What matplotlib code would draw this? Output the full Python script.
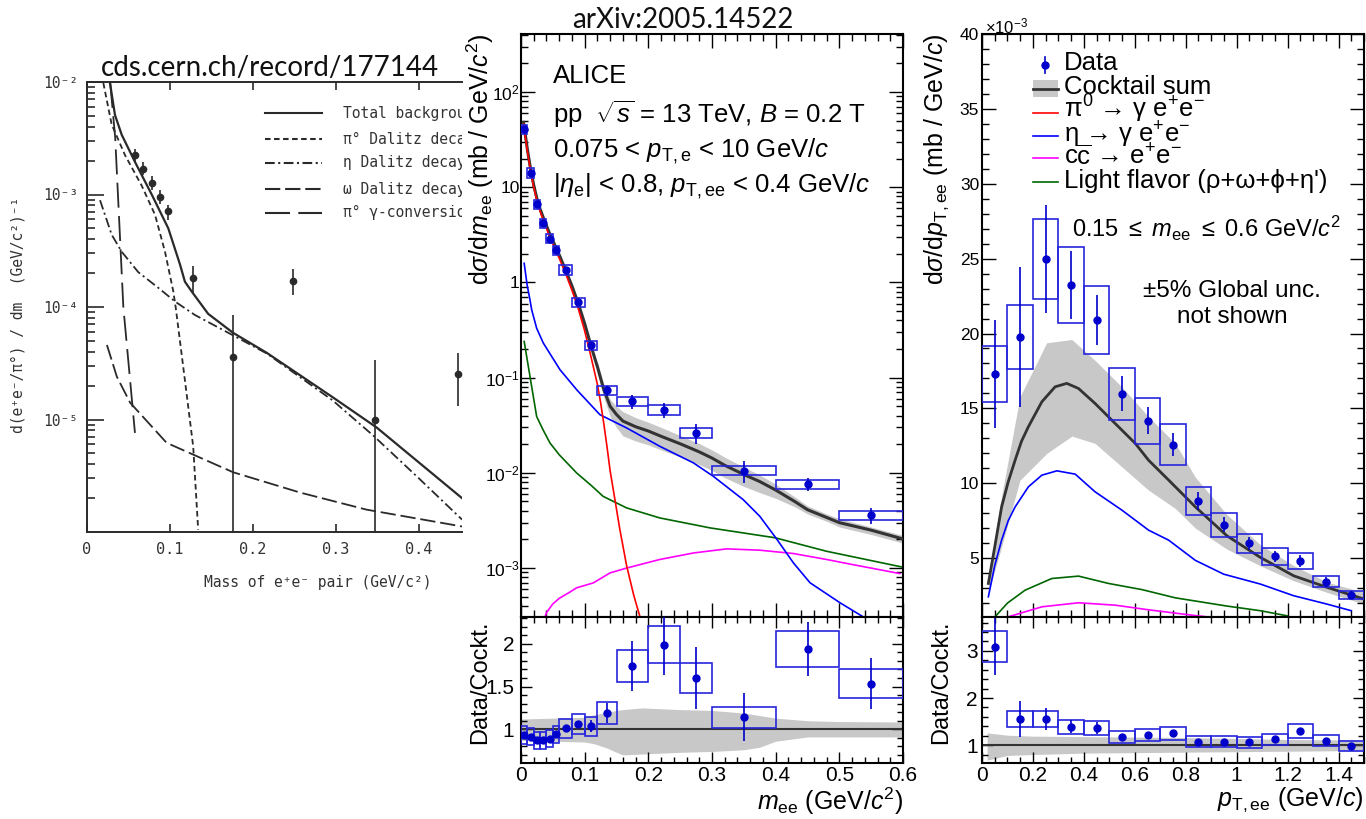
import matplotlib
matplotlib.use("Agg")
import matplotlib.pyplot as plt
from matplotlib.patches import Rectangle
from matplotlib.ticker import MultipleLocator, LogLocator, NullFormatter, FormatStrFormatter, FixedLocator, FixedFormatter

# ================= data =================
# --- left: old measurement (cds.cern.ch/record/177144) ---
old_tot_m = [0.0277, 0.0337, 0.0418, 0.0578, 0.078, 0.098, 0.112, 0.118, 0.126, 0.146, 0.176,
             0.217, 0.296, 0.349, 0.452]
old_tot_y = [9.8e-3, 5.1e-3, 3.4e-3, 1.95e-3, 1.0e-3, 5.0e-4, 2.4e-4, 1.68e-4, 1.38e-4, 8.7e-5, 5.9e-5,
             3.9e-5, 1.58e-5, 8.5e-6, 2.0e-6]
old_pi0_m = [0.0197, 0.0297, 0.0458, 0.0659, 0.082, 0.094, 0.104, 0.107, 0.118, 0.128, 0.134]
old_pi0_y = [9.8e-3, 4.2e-3, 2.24e-3, 1.2e-3, 6.6e-4, 3.1e-4, 1.38e-4, 9.8e-5, 2.24e-5, 5.75e-6, 1.05e-6]
old_eta_m = [0.0157, 0.0297, 0.0418, 0.0618, 0.086, 0.106, 0.130, 0.176, 0.217, 0.296, 0.345, 0.40, 0.452]
old_eta_y = [8.9e-4, 4.4e-4, 3.1e-4, 2.04e-4, 1.48e-4, 1.12e-4, 8.5e-5, 5.6e-5, 3.85e-5, 1.48e-5,
             7.2e-6, 3.0e-6, 1.29e-6]
old_omega_m = [0.024, 0.036, 0.052, 0.096, 0.176, 0.257, 0.337, 0.452]
old_omega_y = [4.6e-5, 2.4e-5, 1.41e-5, 6.2e-6, 3.4e-6, 2.24e-6, 1.58e-6, 1.12e-6]
old_conv_m = [0.028, 0.034, 0.0438, 0.0578]
old_conv_y = [9.8e-3, 3.2e-3, 1.0e-4, 7.6e-6]
old_pts_m = [0.058, 0.068, 0.078, 0.088, 0.098, 0.1275, 0.176, 0.248, 0.347, 0.447]
old_pts_y = [2.24e-3, 1.7e-3, 1.26e-3, 9.5e-4, 7.1e-4, 1.8e-4, 3.6e-5, 1.7e-4, 1.0e-5, 2.54e-5]
old_pts_lo = [1.95e-3, 1.5e-3, 1.1e-3, 8.3e-4, 5.9e-4, 1.33e-4, 1e-7, 1.29e-4, 1e-7, 1.32e-5]
old_pts_hi = [2.55e-3, 1.95e-3, 1.45e-3, 1.1e-3, 8.1e-4, 2.3e-4, 8.5e-5, 2.16e-4, 3.4e-5, 3.9e-5]
old_legend = ["Total background", "π° Dalitz decay", "η Dalitz decay",
              "ω Dalitz decay", "π° γ-conversion"]

# --- middle: ALICE dsigma/dm_ee ---
mass_edges = [0, 0.01, 0.02, 0.03, 0.04, 0.05, 0.06, 0.08, 0.10, 0.12, 0.15,
              0.20, 0.25, 0.30, 0.40, 0.50, 0.60]
mass_data = [40.6, 14.2, 6.64, 4.19, 2.89, 2.20, 1.36, 0.62, 0.22, 0.0735,
             0.0562, 0.046, 0.0264, 0.01055, 0.00764, 0.00358]
mass_stat = [0.01, 0.01, 0.01, 0.01, 0.01, 0.015, 0.02, 0.03, 0.06, 0.12,
             0.17, 0.18, 0.23, 0.25, 0.16, 0.19]          # relative
mass_sys = [0.11] * 16                                    # relative
mass_ratio = [0.93, 0.91, 0.87, 0.87, 0.89, 0.94, 1.01, 1.06, 1.035, 1.19,
              1.74, 1.99, 1.60, 1.14, 1.94, 1.535]
mass_ratio_stat = [0.01, 0.01, 0.01, 0.01, 0.01, 0.015, 0.02, 0.03, 0.07, 0.12,
                   0.29, 0.36, 0.36, 0.28, 0.32, 0.30]

sum_m = [0.004, 0.01, 0.015, 0.02, 0.025, 0.03, 0.035, 0.04, 0.045, 0.05, 0.055, 0.06,
         0.07, 0.08, 0.09, 0.10, 0.11, 0.12, 0.13, 0.14, 0.15, 0.16, 0.18, 0.20, 0.22,
         0.25, 0.28, 0.30, 0.32, 0.35, 0.375, 0.40, 0.43, 0.45, 0.48, 0.50, 0.55, 0.60]
sum_y = [48, 25, 15.6, 10.5, 7.6, 5.9, 4.8, 3.95, 3.25, 2.75, 2.3, 1.95,
         1.35, 0.92, 0.6, 0.37, 0.215, 0.13, 0.075, 0.05, 0.041, 0.035, 0.0305, 0.0275, 0.0242,
         0.0202, 0.0166, 0.0143, 0.012, 0.0096, 0.0081, 0.0066, 0.005, 0.0041, 0.0034, 0.003, 0.0025, 0.00202]
band_m = [0.12, 0.13, 0.14, 0.15, 0.16, 0.18, 0.20, 0.22, 0.25, 0.28, 0.30, 0.32, 0.35,
          0.375, 0.40, 0.43, 0.45, 0.48, 0.50, 0.55, 0.60]
band_hi = [0.146, 0.086, 0.059, 0.050, 0.044, 0.038, 0.034, 0.030, 0.0247, 0.0203, 0.0174,
           0.0146, 0.0115, 0.0095, 0.0076, 0.0056, 0.0045, 0.0037, 0.0033, 0.0027, 0.0022]
band_lo = [0.114, 0.062, 0.039, 0.030, 0.0245, 0.0216, 0.0197, 0.0174, 0.0147, 0.0122, 0.0106,
           0.0089, 0.0072, 0.0062, 0.0054, 0.0044, 0.0037, 0.0031, 0.0027, 0.00225, 0.00183]
pi0_m = [0.004, 0.01, 0.015, 0.02, 0.025, 0.03, 0.035, 0.04, 0.045, 0.05, 0.055, 0.06, 0.07,
         0.08, 0.09, 0.10, 0.11, 0.12, 0.125, 0.13, 0.135, 0.14, 0.1476, 0.155, 0.166, 0.177, 0.19]
pi0_y = [46, 24, 14.9, 10, 7.2, 5.6, 4.5, 3.7, 3.0, 2.55, 2.12, 1.8, 1.24,
         0.83, 0.53, 0.31, 0.165, 0.085, 0.055, 0.033, 0.019, 0.0105, 0.0052, 0.0026, 0.00105, 0.00052, 0.00026]
eta_m = [0.005, 0.0095, 0.0141, 0.0168, 0.0246, 0.035, 0.0613, 0.0874, 0.124, 0.166, 0.218,
         0.271, 0.302, 0.349, 0.375, 0.402, 0.428, 0.454, 0.501, 0.54]
eta_y = [1.59, 0.95, 0.656, 0.515, 0.33, 0.231, 0.121, 0.0747, 0.0408, 0.0296, 0.019,
         0.0127, 0.0092, 0.00523, 0.0035, 0.002, 0.00113, 0.0007, 0.000432, 0.0003]
lf_m = [0.005, 0.0141, 0.0246, 0.035, 0.0455, 0.06, 0.0874, 0.11, 0.129, 0.166, 0.218, 0.297, 0.399, 0.48, 0.60]
lf_y = [0.24, 0.103, 0.039, 0.028, 0.0206, 0.0155, 0.00997, 0.0074, 0.00566, 0.00428, 0.00336,
        0.00264, 0.00208, 0.0015, 0.00102]
cc_m = [0.033, 0.04, 0.05, 0.06, 0.075, 0.0874, 0.1136, 0.14, 0.166, 0.218, 0.271, 0.323,
        0.375, 0.428, 0.48, 0.52, 0.56, 0.595]
cc_y = [0.00025, 0.00034, 0.00042, 0.00048, 0.00055, 0.00062, 0.000698, 0.00089, 0.001, 0.00123,
        0.00144, 0.00159, 0.00154, 0.00142, 0.00123, 0.00109, 0.00097, 0.000875]
rband_m = [0, 0.05, 0.10, 0.115, 0.135, 0.15, 0.16, 0.19, 0.25, 0.30, 0.35, 0.375, 0.40, 0.45, 0.50, 0.60]
rband_hi = [1.12, 1.13, 1.14, 1.17, 1.20, 1.22, 1.23, 1.25, 1.23, 1.22, 1.19, 1.16, 1.13, 1.10, 1.09, 1.085]
rband_lo = [0.87, 0.86, 0.85, 0.83, 0.78, 0.73, 0.70, 0.71, 0.73, 0.74, 0.76, 0.79, 0.86, 0.91, 0.91, 0.91]

# --- right: ALICE dsigma/dpT,ee  (values in units of 1e-3) ---
pt_edges = [0, 0.1, 0.2, 0.3, 0.4, 0.5, 0.6, 0.7, 0.8, 0.9, 1.0, 1.1, 1.2, 1.3, 1.4, 1.5]
pt_data = [17.27, 19.78, 24.98, 23.24, 20.92, 15.98, 14.18, 12.58, 8.8, 7.22, 5.98, 5.11, 4.82, 3.42, 2.55]
pt_stat = [3.6, 4.66, 3.6, 2.3, 1.67, 1.17, 0.92, 0.76, 0.6, 0.5, 0.41, 0.39, 0.39, 0.35, 0.28]
pt_sys = [0.108] * 15
pt_ratio = [3.09, 1.553, 1.56, 1.39, 1.36, 1.17, 1.21, 1.25, 1.07, 1.07, 1.06, 1.12, 1.30, 1.09, 0.99]
pt_ratio_stat = [0.6, 0.38, 0.23, 0.14, 0.12, 0.07, 0.07, 0.07, 0.05, 0.05, 0.05, 0.05, 0.06, 0.06, 0.06]
ptsum_x = [0.025, 0.05, 0.077, 0.103, 0.13, 0.155, 0.182, 0.235, 0.287, 0.333, 0.379, 0.444, 0.523,
           0.602, 0.654, 0.733, 0.838, 0.962, 1.093, 1.224, 1.355, 1.5]
ptsum_y = [3.31, 5.75, 8.42, 10.1, 11.54, 12.8, 13.77, 15.44, 16.44, 16.67, 16.33, 15.33, 13.99,
           12.66, 11.54, 10.21, 8.42, 6.49, 5.05, 3.82, 3.05, 2.27]
ptband_x = [0.025, 0.071, 0.149, 0.254, 0.353, 0.444, 0.549, 0.654, 0.759, 0.838, 0.962, 1.093,
            1.224, 1.355, 1.5]
ptband_hi = [3.6, 8.6, 15.77, 19.38, 19.6, 18.2, 16.44, 14.44, 12.66, 10.4, 7.9, 5.9, 4.5, 3.4, 2.71]
ptband_lo = [2.71, 5.4, 10.2, 11.99, 13.15, 12.66, 11.1, 9.54, 8.32, 7.0, 5.6, 4.49, 3.49, 2.71, 1.93]
pteta_x = [0.025, 0.05, 0.077, 0.103, 0.13, 0.182, 0.235, 0.294, 0.366, 0.444, 0.549, 0.654, 0.733,
           0.838, 0.949, 1.093, 1.224, 1.355, 1.45]
pteta_y = [2.42, 4.5, 6.2, 7.5, 8.42, 9.76, 10.54, 10.83, 10.61, 9.43, 8.21, 6.87, 6.2,
           4.85, 3.93, 3.27, 2.49, 1.93, 1.49]
ptlf_x = [0.051, 0.10, 0.169, 0.274, 0.379, 0.497, 0.628, 0.759, 0.962, 1.093, 1.198]
ptlf_y = [1.08, 2.0, 2.86, 3.64, 3.8, 3.31, 2.9, 2.35, 1.8, 1.49, 1.15]
ptcc_x = [0.103, 0.235, 0.379, 0.523, 0.654, 0.825, 0.90]
ptcc_y = [1.08, 1.75, 2.02, 1.86, 1.55, 1.19, 1.05]
ptrband_x = [0.02, 0.1, 0.2, 0.4, 0.6, 0.8, 1.0, 1.2, 1.4, 1.5]
ptrband_hi = [1.26, 1.21, 1.19, 1.18, 1.17, 1.16, 1.14, 1.12, 1.11, 1.11]
ptrband_lo = [0.68, 0.78, 0.80, 0.83, 0.84, 0.85, 0.86, 0.87, 0.88, 0.88]

legend_labels = ["Data", "Cocktail sum", r"π$^{0}$ → γ e$^{+}$e$^{-}$", r"η → γ e$^{+}$e$^{-}$",
                 r"c$\overline{\rm c}$ → e$^{+}$e$^{-}$", "Light flavor (ρ+ω+ϕ+η')"]

# ================= style =================
plt.rcParams['font.family'] = ['Liberation Sans', 'DejaVu Sans']
plt.rcParams['mathtext.fontset'] = 'custom'
plt.rcParams['mathtext.rm'] = 'Liberation Sans'
plt.rcParams['mathtext.it'] = 'Liberation Sans:italic'
plt.rcParams['mathtext.bf'] = 'Liberation Sans:bold'
plt.rcParams['lines.scale_dashes'] = False

W, H = 1366, 819
fig = plt.figure(figsize=(W / 100, H / 100), dpi=100)


def box(x0, y0, x1, y1):
    return [x0 / W, 1 - y1 / H, (x1 - x0) / W, (y1 - y0) / H]


def ftext(x, y, s, **kw):
    fig.text(x / W, 1 - y / H, s, **kw)


BLUE_PT = '#0000cc'
BLUE_BOX = '#2626dd'
GRAY_BAND = '#c8c8c8'
SUM_COL = '#333333'
MONO = ['DejaVu Sans Mono', 'DejaVu Sans']
OLD = '#2a2a2a'


def root_axes(ax, maj, mnr):
    ax.tick_params(which='both', direction='in', top=True, right=True, width=1.0, color='black')
    ax.tick_params(which='major', length=maj)
    ax.tick_params(which='minor', length=mnr)
    for s in ax.spines.values():
        s.set_linewidth(1.5)


def sys_boxes(ax, edges, vals, rel):
    for i, v in enumerate(vals):
        ax.add_patch(Rectangle((edges[i], v * (1 - rel[i])), edges[i + 1] - edges[i], 2 * v * rel[i],
                               fill=False, edgecolor=BLUE_BOX, lw=1.2, zorder=4))


# ================= left: old plot =================
ax0 = fig.add_axes(box(87, 82, 462, 532))
ax0.set_yscale('log')
ax0.set_xlim(0, 0.452)
ax0.set_ylim(1e-6, 1e-2)
ax0.plot(old_tot_m, old_tot_y, color=OLD, lw=1.6)
ax0.plot(old_pi0_m, old_pi0_y, color=OLD, lw=1.3, dashes=(4, 2.5))
ax0.plot(old_eta_m, old_eta_y, color=OLD, lw=1.3, dashes=(7, 2.5, 1.5, 2.5))
ax0.plot(old_omega_m, old_omega_y, color=OLD, lw=1.3, dashes=(11, 3.5))
ax0.plot(old_conv_m, old_conv_y, color=OLD, lw=1.3, dashes=(18, 6))
yl = [y - lo for y, lo in zip(old_pts_y, old_pts_lo)]
yh = [hi - y for y, hi in zip(old_pts_y, old_pts_hi)]
ax0.errorbar(old_pts_m, old_pts_y, yerr=[yl, yh], fmt='o', ms=4.5, color=OLD, elinewidth=1.2, capsize=0)

ax0.spines['right'].set_visible(False)
for s in ['left', 'bottom', 'top']:
    ax0.spines[s].set_linewidth(1.4)
    ax0.spines[s].set_color(OLD)
ax0.set_xticks([0, 0.1, 0.2, 0.3, 0.4], ['0', '0.1', '0.2', '0.3', '0.4'],
               fontfamily=MONO, fontsize=11, color='#333333')
ax0.set_yticks([1e-2, 1e-3, 1e-4, 1e-5], ['10⁻²', '10⁻³', '10⁻⁴', '10⁻⁵'],
               fontfamily=MONO, fontsize=10.5, color='#333333')
ax0.yaxis.set_minor_locator(LogLocator(subs=range(2, 10)))
ax0.yaxis.set_minor_formatter(NullFormatter())
ax0.tick_params(axis='x', which='both', direction='in', top=True, length=6, width=1.2,
                color=OLD, pad=7)
ax0.tick_params(axis='y', which='major', direction='in', length=12, width=1.2, color=OLD, pad=6)
ax0.tick_params(axis='y', which='minor', direction='in', length=6, width=1.2, color=OLD)

leg_y = [0.931, 0.873, 0.82, 0.762, 0.709]
leg_dash = [None, (4, 2.5), (7, 2.5, 1.5, 2.5), (11, 3.5), (18, 6)]
for fy, d, lab in zip(leg_y, leg_dash, old_legend):
    kw = dict(color=OLD, lw=1.5, transform=ax0.transAxes)
    if d is not None:
        kw['dashes'] = d
    ax0.plot([0.475, 0.627], [fy, fy], **kw)
    ax0.text(0.683, fy, lab, transform=ax0.transAxes, va='center', fontfamily=MONO,
             fontsize=10.5, color='#333333', clip_on=True)

ftext(318, 583, "Mass of e⁺e⁻ pair (GeV/c²)", ha='center', va='center',
      fontfamily=MONO, fontsize=10.5, color='#333333')
ftext(18, 315, "d(e⁺e⁻/π°) / dm  (GeV/c²)⁻¹", ha='center', va='center', rotation=90,
      fontfamily=MONO, fontsize=10.5, color='#333333')
ftext(270, 68, "cds.cern.ch/record/177144", ha='center', va='center',
      fontfamily=['Lato', 'DejaVu Sans'], fontsize=20, color='#111111')

# ================= middle: mass spectrum =================
mass_c = [(mass_edges[i] + mass_edges[i + 1]) / 2 for i in range(len(mass_data))]

ax1 = fig.add_axes(box(521, 34, 903, 617))
ax1.set_yscale('log')
ax1.set_xlim(0, 0.6)
ax1.set_ylim(3.06e-4, 407)
ax1.fill_between(band_m, band_lo, band_hi, color=GRAY_BAND, lw=0, zorder=1)
ax1.plot(lf_m, lf_y, color='#006600', lw=1.2, zorder=2)
ax1.plot(cc_m, cc_y, color='#ff00ff', lw=1.2, zorder=2)
ax1.plot(eta_m, eta_y, color='#0000ff', lw=1.2, zorder=2)
ax1.plot(sum_m, sum_y, color=SUM_COL, lw=2.2, zorder=3)
ax1.plot(pi0_m, pi0_y, color='#ff0000', lw=1.2, zorder=3)
sys_boxes(ax1, mass_edges, mass_data, mass_sys)
ax1.errorbar(mass_c, mass_data, yerr=[v * r for v, r in zip(mass_data, mass_stat)],
             fmt='o', ms=5, color=BLUE_PT, elinewidth=1.2, capsize=0, zorder=5)
root_axes(ax1, 10, 5)
ax1.xaxis.set_major_locator(MultipleLocator(0.1))
ax1.xaxis.set_minor_locator(MultipleLocator(0.02))
ax1.tick_params(labelbottom=False)
ax1.yaxis.set_major_locator(FixedLocator([1e-3, 1e-2, 1e-1, 1, 10, 100]))
ax1.yaxis.set_major_formatter(FixedFormatter([r'$10^{-3}$', r'$10^{-2}$', r'$10^{-1}$', '1', '10', r'$10^{2}$']))
ax1.yaxis.set_minor_locator(LogLocator(subs=range(2, 10)))
ax1.yaxis.set_minor_formatter(NullFormatter())
ax1.tick_params(axis='y', labelsize=12.5, pad=1)

ax1r = fig.add_axes(box(521, 617, 903, 763))
ax1r.set_xlim(0, 0.6)
ax1r.set_ylim(0.605, 2.314)
ax1r.fill_between(rband_m, rband_lo, rband_hi, color=GRAY_BAND, lw=0, zorder=1)
ax1r.axhline(1, color=SUM_COL, lw=1.5, zorder=2)
sys_boxes(ax1r, mass_edges, mass_ratio, mass_sys)
ax1r.errorbar(mass_c, mass_ratio, yerr=mass_ratio_stat, fmt='o', ms=5, color=BLUE_PT,
              elinewidth=1.2, capsize=0, zorder=5)
root_axes(ax1r, 8, 4)
ax1r.xaxis.set_major_locator(MultipleLocator(0.1))
ax1r.xaxis.set_minor_locator(MultipleLocator(0.02))
ax1r.yaxis.set_major_locator(MultipleLocator(0.5))
ax1r.yaxis.set_minor_locator(MultipleLocator(0.1))
ax1r.xaxis.set_major_formatter(FormatStrFormatter('%g'))
ax1r.yaxis.set_major_formatter(FormatStrFormatter('%g'))
ax1r.tick_params(axis='x', labelsize=15, pad=2)
ax1r.tick_params(axis='y', labelsize=15, pad=5)

ftext(480, 33, r"d$\sigma$/d$m_{\rm ee}$ (mb / GeV/$c^{2}$)", rotation=90, ha='center', va='top', fontsize=18)
ftext(480, 620, "Data/Cockt.", rotation=90, ha='center', va='top', fontsize=17)
ftext(903, 810, r"$m_{\rm ee}$ (GeV/$c^{2}$)", ha='right', va='baseline', fontsize=18)
ftext(553, 83, "ALICE", fontsize=18.5, va='baseline')
ftext(553, 123, r"pp  $\sqrt{s}$ = 13 TeV, $B$ = 0.2 T", fontsize=18.5, va='baseline')
ftext(553, 157, r"0.075 < $p_{\rm T,e}$ < 10 GeV/$c$", fontsize=18.5, va='baseline')
ftext(553, 192, r"|$\eta_{\rm e}$| < 0.8, $p_{\rm T,ee}$ < 0.4 GeV/$c$", fontsize=18.5, va='baseline')
ftext(683, 20, "arXiv:2005.14522", ha='center', va='center',
      fontfamily=['Lato', 'DejaVu Sans'], fontsize=20, color='#111111')

# ================= right: pT spectrum =================
pt_c = [(pt_edges[i] + pt_edges[i + 1]) / 2 for i in range(len(pt_data))]

ax2 = fig.add_axes(box(982, 34, 1364, 617))
ax2.set_xlim(0, 1.5)
ax2.set_ylim(1.07, 40)
ax2.fill_between(ptband_x, ptband_lo, ptband_hi, color=GRAY_BAND, lw=0, zorder=1)
ax2.plot(ptlf_x, ptlf_y, color='#006600', lw=1.2, zorder=2)
ax2.plot(ptcc_x, ptcc_y, color='#ff00ff', lw=1.2, zorder=2)
ax2.plot(pteta_x, pteta_y, color='#0000ff', lw=1.2, zorder=2)
ax2.plot(ptsum_x, ptsum_y, color=SUM_COL, lw=2.0, zorder=3)
sys_boxes(ax2, pt_edges, pt_data, pt_sys)
ax2.errorbar(pt_c, pt_data, yerr=pt_stat, fmt='o', ms=5, color=BLUE_PT, elinewidth=1.2,
             capsize=0, zorder=5)
root_axes(ax2, 10, 5)
ax2.xaxis.set_major_locator(MultipleLocator(0.2))
ax2.xaxis.set_minor_locator(MultipleLocator(0.05))
ax2.yaxis.set_major_locator(MultipleLocator(5))
ax2.yaxis.set_minor_locator(MultipleLocator(1))
ax2.yaxis.set_major_formatter(FormatStrFormatter('%g'))
ax2.tick_params(labelbottom=False)
ax2.tick_params(axis='y', labelsize=12.5, pad=2)


# legend, placed in pixel positions of the reference
def ax2f(X, Y):
    return (X - 982) / 382, (617 - Y) / 583


tr = ax2.transAxes
x0, _ = ax2f(1033, 0)
x1, _ = ax2f(1058, 0)
mx, my = ax2f(1045, 65)
_, e0 = ax2f(0, 57)
_, e1 = ax2f(0, 73)
ax2.plot([mx, mx], [e0, e1], color=BLUE_PT, lw=1.2, transform=tr, clip_on=False)
ax2.plot([mx], [my], 'o', ms=5, color=BLUE_PT, transform=tr, clip_on=False)
_, b0 = ax2f(0, 97)
_, b1 = ax2f(0, 80)
ax2.add_patch(Rectangle((x0, b0), x1 - x0, b1 - b0, transform=tr, color=GRAY_BAND, lw=0))
_, ly = ax2f(0, 88.5)
ax2.plot([x0, x1], [ly, ly], color=SUM_COL, lw=2.0, transform=tr)
for Y, c in zip([113, 136, 158, 182], ['#ff0000', '#0000ff', '#ff00ff', '#006600']):
    _, ly = ax2f(0, Y)
    ax2.plot([x0, x1], [ly, ly], color=c, lw=1.2, transform=tr)
tx, _ = ax2f(1064, 0)
for Y, lab in zip([70, 94, 118, 142, 164, 188], legend_labels):
    _, ty = ax2f(0, Y)
    ax2.text(tx, ty, lab, transform=tr, va='baseline', ha='left', fontsize=18.5)

ftext(1072, 237, r"0.15 $\leq$ $m_{\rm ee}$ $\leq$ 0.6 GeV/$c^{2}$", fontsize=17, va='baseline')
ftext(1232, 297, "±5% Global unc.", fontsize=17.5, va='baseline', ha='center')
ftext(1232, 323, "not shown", fontsize=17.5, va='baseline', ha='center')
ftext(985, 33, r"$\times$10$^{-3}$", fontsize=12, va='baseline')

ax2r = fig.add_axes(box(982, 617, 1364, 763))
ax2r.set_xlim(0, 1.5)
ax2r.set_ylim(0.62, 3.72)
ax2r.fill_between(ptrband_x, ptrband_lo, ptrband_hi, color=GRAY_BAND, lw=0, zorder=1)
ax2r.axhline(1, color=SUM_COL, lw=1.5, zorder=2)
sys_boxes(ax2r, pt_edges, pt_ratio, pt_sys)
ax2r.errorbar(pt_c, pt_ratio, yerr=pt_ratio_stat, fmt='o', ms=5, color=BLUE_PT,
              elinewidth=1.2, capsize=0, zorder=5)
root_axes(ax2r, 8, 4)
ax2r.xaxis.set_major_locator(MultipleLocator(0.2))
ax2r.xaxis.set_minor_locator(MultipleLocator(0.05))
ax2r.yaxis.set_major_locator(MultipleLocator(1))
ax2r.yaxis.set_minor_locator(MultipleLocator(0.2))
ax2r.xaxis.set_major_formatter(FormatStrFormatter('%g'))
ax2r.yaxis.set_major_formatter(FormatStrFormatter('%g'))
ax2r.tick_params(axis='x', labelsize=15, pad=2)
ax2r.tick_params(axis='y', labelsize=15, pad=3)

ftext(937, 33, r"d$\sigma$/d$p_{\rm T,ee}$ (mb / GeV/$c$)", rotation=90, ha='center', va='top', fontsize=18)
ftext(941, 620, "Data/Cockt.", rotation=90, ha='center', va='top', fontsize=17)
ftext(1364, 806, r"$p_{\rm T,ee}$ (GeV/$c$)", ha='right', va='baseline', fontsize=18)

fig.savefig("out.png", dpi=100)
